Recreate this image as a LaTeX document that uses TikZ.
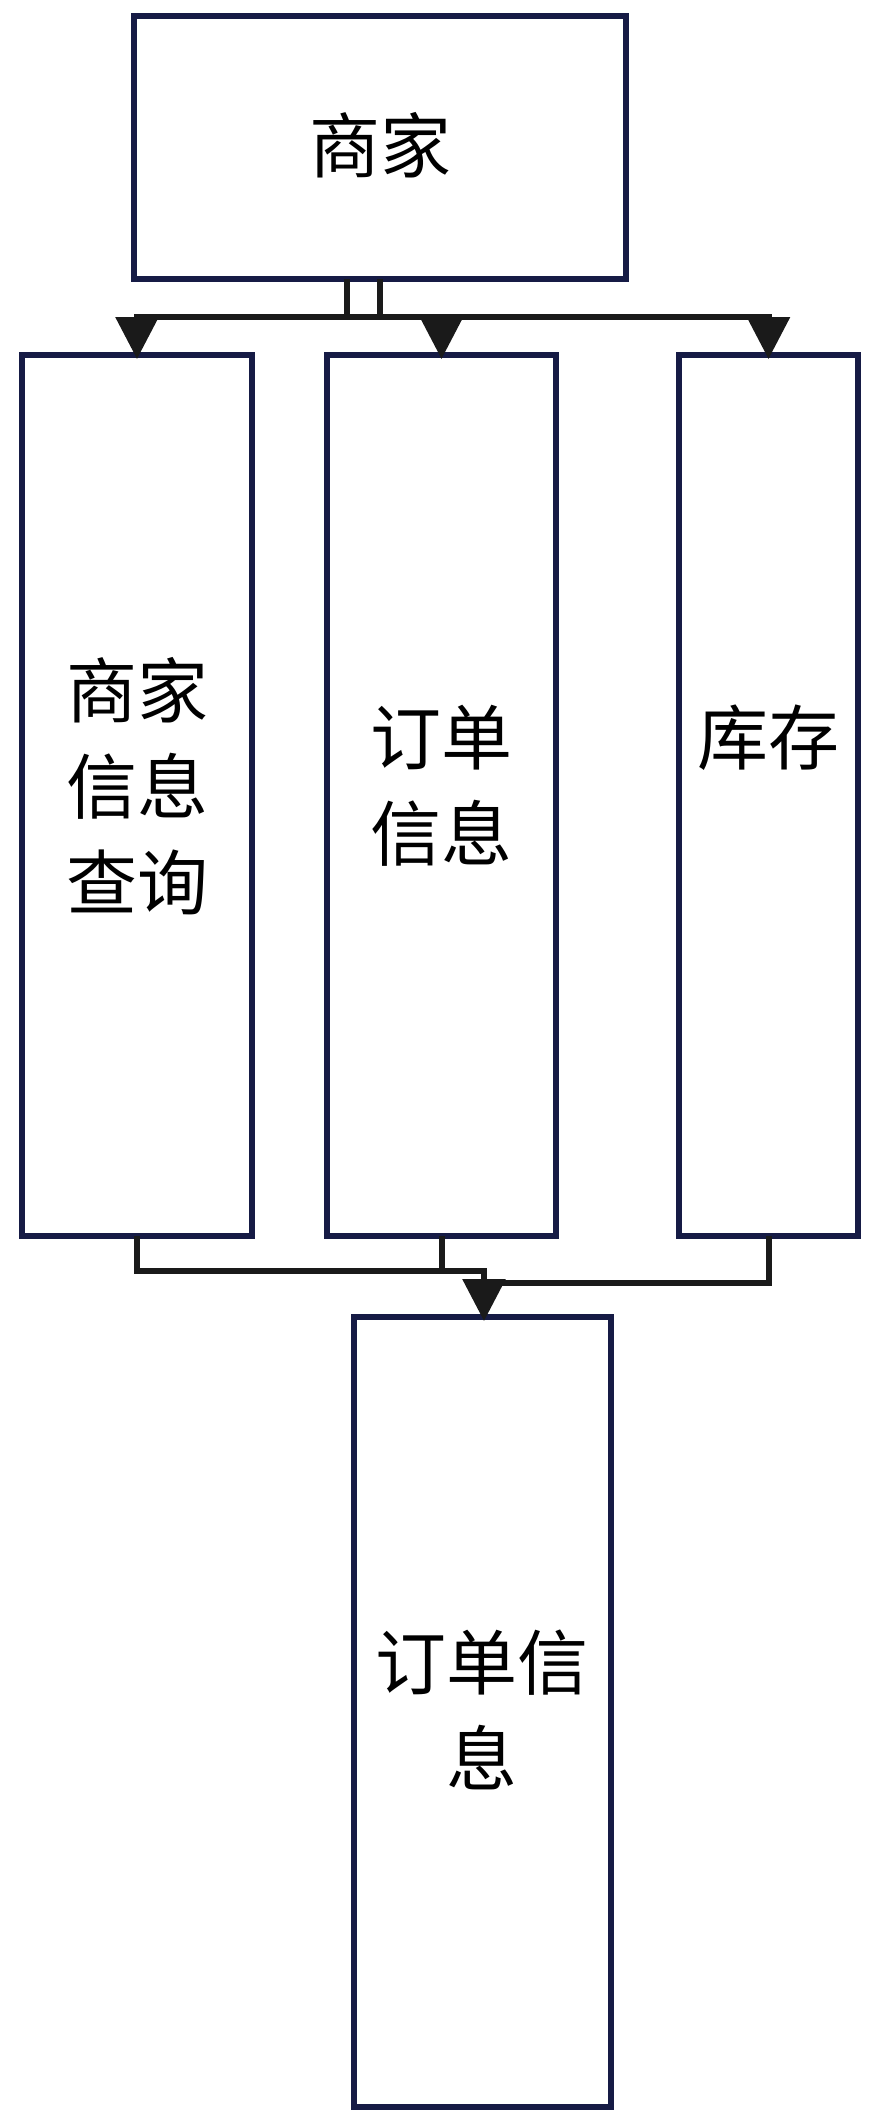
\documentclass[tikz,border=0pt]{standalone}
\usepackage{fontspec}
\newfontfamily\cjk{Noto Sans CJK SC}
\usetikzlibrary{arrows.meta,calc}
\definecolor{boxline}{HTML}{161B45}
\definecolor{conline}{HTML}{1A1A1A}
\tikzset{
  box/.style={draw=boxline, line width=6pt, fill=white, rectangle, anchor=north west, outer sep=0pt, inner sep=0pt},
  conn/.style={draw=conline, line width=6pt},
  arr/.style={conn, -{Triangle[width=42pt,length=42pt]}},
  lbl/.style={font=\cjk\fontsize{71}{96}\selectfont, align=center, text=black, inner sep=0pt}
}
\begin{document}
\begin{tikzpicture}[x=1pt,y=-1pt]
\useasboundingbox (0,0) rectangle (874,2125);
\fill[white] (0,0) rectangle (874,2125);
% boxes
\node[box, minimum width=492pt, minimum height=263pt] (top) at (134,16) {};
\node[box, minimum width=230pt, minimum height=881pt] (b1) at (22,355) {};
\node[box, minimum width=229pt, minimum height=881pt] (b2) at (327,355) {};
\node[box, minimum width=179pt, minimum height=881pt] (b3) at (679,355) {};
\node[box, minimum width=257pt, minimum height=790pt] (b4) at (354,1317) {};
% labels
\node[lbl] (l0) at (380,145) {商家};
\node[lbl] (l1) at (137,786) {商家\\信息\\查询};
\node[lbl] (l2) at (441,786) {订单\\信息};
\node[lbl] (l3) at (768,738) {库存};
\node[lbl] (l4) at (482,1710) {订单信\\息};
% top connectors
\draw[arr] ([xshift=-33pt]top.south) -- ++(0,38) -| ([yshift=-4pt]b2.north);
\draw[arr] (top.south) -- ++(0,38) -| ([yshift=-4pt]b3.north);
\draw[arr] (top.south) -- ++(0,38) -| ([yshift=-4pt]b1.north);
% bottom connectors
\coordinate (j1) at (484,1271);
\coordinate (j2) at (484,1283);
\draw[conn] (b1.south) |- (j1) -- (j2);
\draw[conn] (b2.south) -- (b2.south |- j1);
\draw[arr] (b3.south) |- (j2) -- ([yshift=-4pt]b4.north -| j2);
\end{tikzpicture}
\end{document}
